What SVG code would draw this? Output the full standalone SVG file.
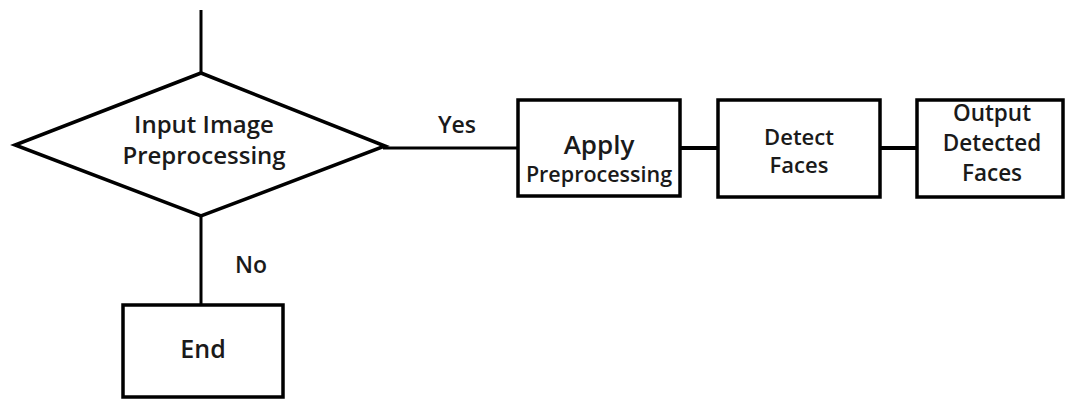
<svg xmlns="http://www.w3.org/2000/svg" width="1078" height="400" viewBox="0 0 1078 400">
  <style>
    .shape { fill: #fff; stroke: #000; stroke-width: 3.5; stroke-linejoin: miter; }
    .link { fill: none; stroke: #000; stroke-width: 3; }
    .thick { stroke-width: 4; }
    text { font-family: "Open Sans", "Noto Sans", sans-serif; font-weight: 600; fill: #1a1a1a; text-anchor: middle; }
  </style>
  <rect width="1078" height="400" fill="#fff"/>

  <g id="connectors">
    <line class="link" x1="201" y1="10" x2="201" y2="74"/>
    <line class="link" x1="383" y1="148" x2="518" y2="148"/>
    <line class="link thick" x1="680" y1="148" x2="718" y2="148"/>
    <line class="link thick" x1="880" y1="148" x2="917" y2="148"/>
    <line class="link" x1="201" y1="216" x2="201" y2="305"/>
    <text x="457" y="133" font-size="23">Yes</text>
    <text x="251" y="273" font-size="23">No</text>
  </g>

  <g id="decision">
    <polygon class="shape" points="201,73 15,145 201,216 385,146"/>
    <text x="204" y="133" font-size="24">Input Image</text>
    <text x="204" y="164" font-size="24">Preprocessing</text>
  </g>

  <g id="apply">
    <rect class="shape" x="518" y="100" width="162" height="96"/>
    <text x="599" y="154" font-size="26">Apply</text>
    <text x="599" y="182" font-size="21.5">Preprocessing</text>
  </g>

  <g id="detect">
    <rect class="shape" x="718" y="100" width="162" height="97"/>
    <text x="799" y="145" font-size="22">Detect</text>
    <text x="799" y="173" font-size="22">Faces</text>
  </g>

  <g id="output">
    <rect class="shape" x="917" y="100" width="146" height="97"/>
    <text x="992" y="121" font-size="22.5">Output</text>
    <text x="992" y="151" font-size="22.5">Detected</text>
    <text x="992" y="181" font-size="22.5">Faces</text>
  </g>

  <g id="end">
    <rect class="shape" x="123" y="305" width="160" height="92"/>
    <text x="203" y="358" font-size="25">End</text>
  </g>
</svg>
